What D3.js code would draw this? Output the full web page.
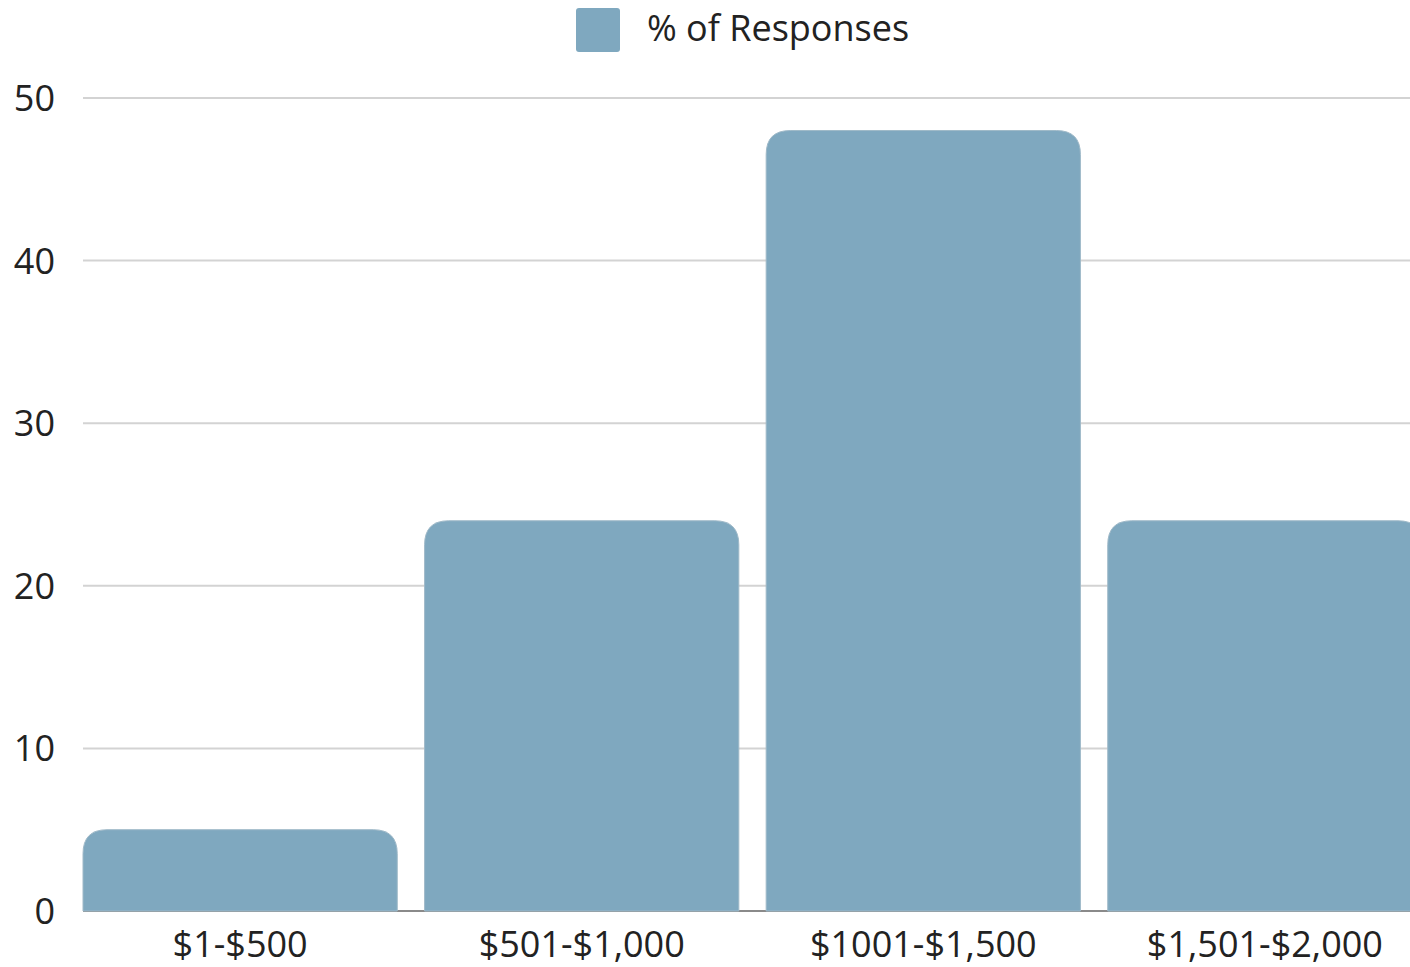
<!DOCTYPE html>
<html>
<head>
<meta charset="utf-8">
<script src="https://cdn.jsdelivr.net/npm/d3@7"></script>
<style>
  body { margin: 0; background: #fff; }
  svg { display: block; font-family: "Open Sans", sans-serif; }
</style>
</head>
<body>
<svg width="1410" height="967"></svg>
<script>
var categories = ["$1-$500", "$501-$1,000", "$1001-$1,500", "$1,501-$2,000"];
var values = [5, 24, 48, 24];
var seriesName = "% of Responses";
var yTicks = [0, 10, 20, 30, 40, 50];

var svg = d3.select("svg"),
    margin = {top: 98, left: 83, bottom: 56},
    height = 967 - margin.top - margin.bottom,
    barColor = "#7fa8bf",
    fontSize = "36px";

// chart runs a little past the right edge of the window, like the original
var x = d3.scaleBand().domain(categories)
  .range([margin.left, 1422]).paddingInner(0.08).paddingOuter(0);
var y = d3.scaleLinear().domain([0, 50]).range([margin.top + height, margin.top]);

// grid lines
svg.append("g").selectAll("line")
  .data(yTicks.slice(1))
  .enter().append("line")
  .attr("x1", margin.left).attr("x2", 1410)
  .attr("y1", function(d) { return y(d); })
  .attr("y2", function(d) { return y(d); })
  .attr("stroke", "#d3d3d3").attr("stroke-width", 2);

// y labels
svg.append("g").selectAll("text")
  .data(yTicks)
  .enter().append("text")
  .attr("x", 55)
  .attr("y", function(d) { return y(d); })
  .attr("dy", "0.36em")
  .attr("text-anchor", "end")
  .attr("fill", "#222")
  .style("font-size", fontSize)
  .text(function(d) { return d; });

// baseline
svg.append("line")
  .attr("x1", margin.left).attr("x2", 1410)
  .attr("y1", y(0)).attr("y2", y(0))
  .attr("stroke", "#8a8a8a").attr("stroke-width", 2);

// bars with rounded top corners
function barPath(x0, w, yTop, yBot, r) {
  r = Math.min(r, (yBot - yTop), w / 2);
  return "M" + x0 + "," + yBot +
    "V" + (yTop + r) +
    "Q" + x0 + "," + yTop + " " + (x0 + r) + "," + yTop +
    "H" + (x0 + w - r) +
    "Q" + (x0 + w) + "," + yTop + " " + (x0 + w) + "," + (yTop + r) +
    "V" + yBot + "Z";
}

svg.append("g").selectAll("path")
  .data(values)
  .enter().append("path")
  .attr("fill", barColor)
  .attr("stroke", "#9fb9c8")
  .attr("stroke-width", 1)
  .attr("d", function(d, i) {
    return barPath(x(categories[i]), x.bandwidth(), y(d), y(0), 24);
  });

// x labels
svg.append("g").selectAll("text")
  .data(categories)
  .enter().append("text")
  .attr("x", function(d) { return x(d) + x.bandwidth() / 2; })
  .attr("y", 957)
  .attr("text-anchor", "middle")
  .attr("fill", "#222")
  .style("font-size", fontSize)
  .text(function(d) { return d; });

// legend
var legend = svg.append("g").attr("transform", "translate(576,8)");
legend.append("rect")
  .attr("width", 44).attr("height", 44).attr("rx", 3)
  .attr("fill", barColor);
legend.append("text")
  .attr("x", 71).attr("y", 33)
  .attr("fill", "#222")
  .style("font-size", fontSize)
  .text(seriesName);
</script>
</body>
</html>
